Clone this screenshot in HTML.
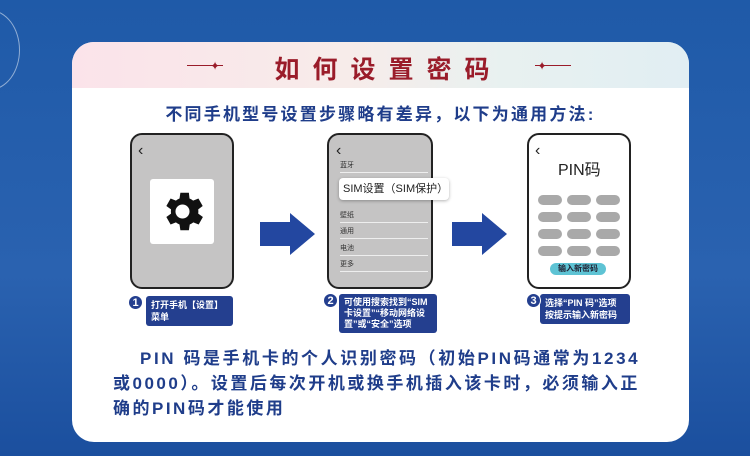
<!DOCTYPE html>
<html><head><meta charset="utf-8"><style>
*{margin:0;padding:0;box-sizing:border-box}
body{width:750px;height:456px;overflow:hidden;background:linear-gradient(180deg,#1f5aa8,#2a62b0 60%,#1b4f9e);font-family:"Liberation Sans","Noto Sans CJK SC",sans-serif;position:relative}
.a{position:absolute}
.card{left:72px;top:42px;width:617px;height:400px;background:#fff;border-radius:22px;overflow:hidden}
.hd{left:0;top:0;width:617px;height:46px;background:linear-gradient(90deg,#fbe3ea,#f7ecea 45%,#e8f1f0 70%,#e1eef3)}
.title{left:8px;top:8px;width:617px;text-align:center;font-size:25px;font-weight:bold;color:#9a1c2a;letter-spacing:13px}
.sub{left:0;top:58px;width:617px;text-align:center;font-size:17px;font-weight:bold;color:#1f3d8a;letter-spacing:2.2px}
.ph{border:2.5px solid #222;border-radius:12px}
.bk{font-size:16px;color:#222}
.lbl{background:#243f8f;color:#fff;font-size:9px;font-weight:bold;line-height:12px;padding:3px 5px;border-radius:3px;word-break:break-all}
.num{width:15px;height:15px;border-radius:50%;background:#243f8f;color:#fff;font-size:11px;font-weight:bold;text-align:center;line-height:15px;border:1px solid #fff}
.li{font-size:7px;color:#333;border-bottom:1px solid #eee;width:88px;padding-bottom:2px}
.k{width:24px;height:10px;border-radius:5px;background:#a9a9a9}
.bt{font-size:17px;font-weight:bold;color:#1f3d8a;letter-spacing:2.6px;white-space:nowrap}
</style></head><body>
<div class="a" style="left:-40px;top:10px;width:60px;height:80px;border:1px solid rgba(255,255,255,.5);border-radius:50%"></div>
<div class="a card">
 <div class="a hd"></div>
 <div class="a title">如何设置密码</div>
 <div class="a" style="left:115px;top:23px;width:36px;height:1px;background:#9a1c2a"></div>
 <div class="a" style="left:138px;top:17px;color:#9a1c2a;font-size:12px">✦</div>
 <div class="a" style="left:463px;top:23px;width:36px;height:1px;background:#9a1c2a"></div>
 <div class="a" style="left:465px;top:17px;color:#9a1c2a;font-size:12px">✦</div>
 <div class="a sub">不同手机型号设置步骤略有差异，以下为通用方法:</div>
</div>
<div class="a ph" style="left:130px;top:133px;width:104px;height:156px;background:#c5c4c4"></div>
<div class="a bk" style="left:138px;top:142px">‹</div>
<div class="a" style="left:150px;top:179px;width:64px;height:65px;background:#fff;border-radius:3px"></div>
<svg class="a" style="left:157px;top:186px" width="51" height="51" viewBox="0 0 24 24"><path fill="#111" d="M19.4 13a7.5 7.5 0 0 0 0-2l2.1-1.6-2-3.5-2.5 1a7 7 0 0 0-1.7-1L15 3.2h-4l-.4 2.7a7 7 0 0 0-1.7 1l-2.5-1-2 3.5L6.6 11a7.5 7.5 0 0 0 0 2l-2.2 1.6 2 3.5 2.5-1a7 7 0 0 0 1.7 1l.4 2.7h4l.4-2.7a7 7 0 0 0 1.7-1l2.5 1 2-3.5zM12 15.3a3.3 3.3 0 1 1 0-6.6 3.3 3.3 0 0 1 0 6.6z"/></svg>
<svg class="a" style="left:260px;top:213px" width="56" height="42"><polygon points="0,9 30,9 30,0 55,21 30,42 30,33 0,33" fill="#2347a0"/></svg>
<svg class="a" style="left:452px;top:213px" width="56" height="42"><polygon points="0,9 30,9 30,0 55,21 30,42 30,33 0,33" fill="#2347a0"/></svg>
<div class="a ph" style="left:327px;top:133px;width:106px;height:156px;background:#c5c4c4"></div>
<div class="a bk" style="left:336px;top:142px">‹</div>
<div class="a li" style="left:340px;top:160px">蓝牙</div>
<div class="a li" style="left:340px;top:210px">壁纸</div>
<div class="a li" style="left:340px;top:226px">通用</div>
<div class="a li" style="left:340px;top:243px">电池</div>
<div class="a li" style="left:340px;top:259px">更多</div>
<div class="a" style="left:339px;top:178px;width:110px;height:22px;background:#fff;border-radius:4px;box-shadow:0 1px 3px rgba(0,0,0,.3);font-size:11px;color:#222;line-height:22px;padding-left:4px;white-space:nowrap">SIM设置（SIM保护）</div>
<div class="a ph" style="left:527px;top:133px;width:104px;height:156px;background:#fff"></div>
<div class="a bk" style="left:535px;top:142px">‹</div>
<div class="a" style="left:558px;top:156px;font-size:16px;color:#222">PIN码</div>
<div class="a" style="left:538px;top:195px;display:grid;grid-template-columns:24px 24px 24px;gap:7px 5px">
<div class="k"></div><div class="k"></div><div class="k"></div><div class="k"></div><div class="k"></div><div class="k"></div><div class="k"></div><div class="k"></div><div class="k"></div><div class="k"></div><div class="k"></div><div class="k"></div></div>
<div class="a" style="left:550px;top:263px;width:56px;height:12px;border-radius:6px;background:#5ec3d4;font-size:8px;font-weight:bold;color:#223;text-align:center;line-height:12px">输入新密码</div>
<div class="a lbl" style="left:146px;top:296px;width:87px">打开手机【设置】菜单</div>
<div class="a num" style="left:128px;top:295px">1</div>
<div class="a lbl" style="left:339px;top:294px;width:98px;line-height:11px;white-space:nowrap;word-break:normal">可使用搜索找到“SIM<br>卡设置”“移动网络设<br>置”或“安全”选项</div>
<div class="a num" style="left:323px;top:293px">2</div>
<div class="a lbl" style="left:540px;top:294px;width:90px;white-space:nowrap;word-break:normal">选择“PIN 码”选项<br>按提示输入新密码</div>
<div class="a num" style="left:526px;top:293px">3</div>
<div class="a bt" style="left:140px;top:344px">PIN 码是手机卡的个人识别密码（初始PIN码通常为1234</div>
<div class="a bt" style="left:113px;top:369px;letter-spacing:2.5px">或0000）。设置后每次开机或换手机插入该卡时，必须输入正</div>
<div class="a bt" style="left:113px;top:394px;letter-spacing:2.5px">确的PIN码才能使用</div>
</body></html>
